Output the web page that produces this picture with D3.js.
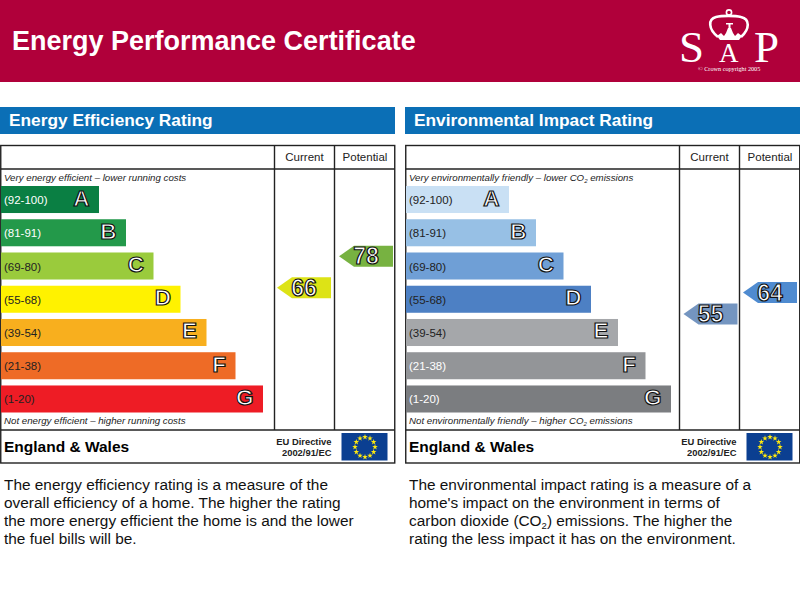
<!DOCTYPE html>
<html>
<head>
<meta charset="utf-8">
<script src="https://cdn.jsdelivr.net/npm/d3@7"></script>
<style>
  html, body { margin: 0; padding: 0; background: #fff; }
  svg { display: block; }
  text { font-family: "Liberation Sans", Arial, sans-serif; }
</style>
</head>
<body>
<div id="chart"></div>
<script>
var bands = ['A', 'B', 'C', 'D', 'E', 'F', 'G'];
var ranges = ['(92-100)', '(81-91)', '(69-80)', '(55-68)', '(39-54)', '(21-38)', '(1-20)'];

// bar lengths, in px of the original
var energyLengths = [98, 125, 152.5, 179.5, 205.5, 234.5, 262];
var envLengths = [103, 130, 157.5, 185, 212, 239.5, 265];

var energyColours = ['#0a7f43', '#23994a', '#9acb3c', '#fff200', '#f8af1e', '#ee6b26', '#ee1c25'];
var envColours = ['#c9e0f4', '#97c0e5', '#6f9fd6', '#4d80c4', '#a5a7aa', '#939598', '#7b7d80'];

var energyRangeText = ['#fff', '#fff', '#222', '#222', '#222', '#222', '#222'];
var envRangeText = ['#222', '#222', '#222', '#222', '#222', '#fff', '#fff'];

var scoreAnchors = [55, 68, 80];

var energyScores = [66, 78];
var energyArrows = ['#dde316', '#77b241'];
var envScores = [55, 64];
var envArrows = ['#7495c0', '#4f8bd0'];

var columns = ['Current', 'Potential'];

var energyBlurb = [
  'The energy efficiency rating is a measure of the',
  'overall efficiency of a home. The higher the rating',
  'the more energy efficient the home is and the lower',
  'the fuel bills will be.'
];
var envBlurb = [
  "The environmental impact rating is a measure of a",
  "home's impact on the environment in terms of",
  ["carbon dioxide (CO", "2", ") emissions. The higher the"],
  "rating the less impact it has on the environment."
];

var svg = d3.select('#chart').append('svg').attr('width', 800).attr('height', 600);

var y = d3.scaleBand().domain(bands).range([186, 412.5]).paddingInner(0.187).paddingOuter(0);
var x = d3.scaleLinear().domain([0, 265]).range([0, 265]);
var scoreY = d3.scaleLinear().domain(scoreAnchors).range([314, 283, 251]);

// header
svg.append('rect').attr('width', 800).attr('height', 82).attr('fill', '#b0003a');
svg.append('text').attr('x', 12).attr('y', 50)
  .attr('font-size', 27).attr('font-weight', 'bold').attr('fill', '#fff')
  .text('Energy Performance Certificate');

drawLogo();

function drawLogo() {
  var g = svg.append('g').attr('fill', '#fff');
  var serif = '"Liberation Serif", serif';
  function word(xx, yy, size, s) {
    g.append('text').attr('x', xx).attr('y', yy).attr('font-size', size)
      .style('font-family', serif).text(s);
  }
  word(679, 62, 45, 'S');
  word(719, 62, 27, 'A');
  word(754, 62, 45, 'P');
  word(698, 71, 6.2, '\u00a9 Crown copyright 2005');
  // crown
  g.append('path')
    .attr('fill', 'none').attr('stroke', '#fff').attr('stroke-width', 2.6)
    .attr('d', 'M718 37 C708 29 708 19 716 17 C722 15.5 735 15.5 741 17 C750 19 750 29 741 37');
  g.append('circle').attr('cx', 729).attr('cy', 12.5).attr('r', 2.6)
    .attr('fill', 'none').attr('stroke', '#fff').attr('stroke-width', 1.6);
  g.append('path').attr('d', 'M717 36 L721 33 L724 36 L726 33 L728 28 L731 28 L733 33 L735 36 L738 33 L742 36 L739 40 L720 40 Z');
  g.append('path').attr('d', 'M726 23 L733 23 L733 24.5 L730.5 24.5 L730.5 29 L728.5 29 L728.5 24.5 L726 24.5 Z');
}

// white glyph with a dark outline
function outlined(sel) {
  sel.attr('fill', '#fff').attr('stroke', '#111').attr('stroke-width', 1.2);
}

function drawPanel(ox, opts) {
  var g = svg.append('g').attr('transform', 'translate(' + ox + ',0)');

  // blue title strip
  g.append('rect').attr('x', 0).attr('y', 107).attr('width', 395).attr('height', 27).attr('fill', '#0b6fb6');
  g.append('text').attr('x', 9).attr('y', 126)
    .attr('font-size', 17.3).attr('font-weight', 'bold').attr('fill', '#fff').text(opts.title);

  // frame
  g.append('rect').attr('x', 0.75).attr('y', 145.5).attr('width', 394).attr('height', 317.5)
    .attr('fill', 'none').attr('stroke', '#222').attr('stroke-width', 1.4);
  [[0.75, 169, 394.75, 169], [0.75, 430, 394.75, 430], [274.5, 145.5, 274.5, 430], [334.5, 145.5, 334.5, 430]].forEach(function(l) {
    g.append('line').attr('x1', l[0]).attr('y1', l[1]).attr('x2', l[2]).attr('y2', l[3])
      .attr('stroke', '#222').attr('stroke-width', 1.4);
  });

  g.selectAll('.col').data(columns).enter().append('text')
    .attr('class', 'col')
    .attr('x', function(d, i) { return i == 0 ? 304.5 : 365; })
    .attr('y', 161)
    .attr('text-anchor', 'middle').attr('font-size', 11.5).attr('fill', '#222')
    .text(function(d) { return d; });

  italicLine(g, 181, opts.top);
  italicLine(g, 424, opts.bottom);

  // bars
  g.selectAll('.bar').data(bands).enter().append('rect')
    .attr('class', 'bar')
    .attr('x', 1)
    .attr('y', function(d) { return y(d); })
    .attr('width', function(d, i) { return x(opts.lengths[i]); })
    .attr('height', y.bandwidth())
    .attr('fill', function(d, i) { return opts.colours[i]; });

  g.selectAll('.range').data(ranges).enter().append('text')
    .attr('class', 'range')
    .attr('x', 4)
    .attr('y', function(d, i) { return y(bands[i]) + y.bandwidth() / 2 + 4.5; })
    .attr('font-size', 11.5)
    .attr('fill', function(d, i) { return opts.rangeText[i]; })
    .text(function(d) { return d; });

  g.selectAll('.letter').data(bands).enter().append('text')
    .attr('class', 'letter')
    .attr('x', function(d, i) { return 1 + x(opts.lengths[i]) - 9.5; })
    .attr('y', function(d) { return y(d) + y.bandwidth() / 2 + 6; })
    .attr('text-anchor', 'end')
    .attr('font-size', 22.5).attr('font-weight', 'bold')
    .call(outlined)
    .text(function(d) { return d; });

  // current and potential arrows
  opts.scores.forEach(function(s, i) {
    var cy = scoreY(s), ax = opts.arrowX[i];
    g.append('path')
      .attr('d', d3.line()([[ax, cy], [ax + 15, cy - 10.5], [ax + 54, cy - 10.5], [ax + 54, cy + 10.5], [ax + 15, cy + 10.5]]) + 'Z')
      .attr('fill', opts.arrows[i]);
    g.append('text')
      .attr('x', ax + 27).attr('y', cy + 8)
      .attr('text-anchor', 'middle')
      .attr('font-size', 23).attr('font-weight', 'bold')
      .call(outlined)
      .text(s);
  });

  // footer row
  g.append('text').attr('x', 4).attr('y', 452)
    .attr('font-size', 15.5).attr('font-weight', 'bold').attr('fill', '#000').text('England & Wales');
  g.append('text').attr('x', 331.5).attr('y', 444.5).attr('text-anchor', 'end')
    .attr('font-size', 9.4).attr('font-weight', 'bold').attr('fill', '#222').text('EU Directive');
  g.append('text').attr('x', 331.5).attr('y', 456).attr('text-anchor', 'end')
    .attr('font-size', 9.4).attr('font-weight', 'bold').attr('fill', '#222').text('2002/91/EC');

  // flag
  g.append('rect').attr('x', 341.5).attr('y', 433).attr('width', 46).attr('height', 27.5).attr('fill', '#0b3f91');
  var star = d3.symbol().type(d3.symbolStar).size(10);
  g.selectAll('.star').data(d3.range(12)).enter().append('path')
    .attr('class', 'star')
    .attr('d', star)
    .attr('fill', '#ffe90f')
    .attr('transform', function(d) {
      var a = d / 12 * Math.PI * 2;
      return 'translate(' + (365 + 10 * Math.sin(a)) + ',' + (447 - 10 * Math.cos(a)) + ')';
    });

  // blurb
  opts.blurb.forEach(function(line, i) {
    var t = g.append('text').attr('x', 4).attr('y', 489.5 + i * 18)
      .attr('font-size', 15.4).attr('fill', '#111');
    if (typeof line == 'string') {
      t.text(line);
    } else {
      t.append('tspan').text(line[0]);
      t.append('tspan').attr('font-size', 9.5).attr('dy', 3).text(line[1]);
      t.append('tspan').attr('dy', -3).text(line[2]);
    }
  });
}

function italicLine(g, yy, parts) {
  var t = g.append('text').attr('x', 4).attr('y', yy)
    .attr('font-size', 9.7).attr('font-style', 'italic').attr('fill', '#222');
  t.append('tspan').text(parts[0]);
  if (parts.length > 1) {
    t.append('tspan').attr('font-size', 6).attr('dy', 2).text(parts[1]);
    t.append('tspan').attr('dy', -2).text(parts[2]);
  }
}

drawPanel(0, {
  title: 'Energy Efficiency Rating',
  top: ['Very energy efficient \u2013 lower running costs'],
  bottom: ['Not energy efficient \u2013 higher running costs'],
  lengths: energyLengths,
  colours: energyColours,
  rangeText: energyRangeText,
  scores: energyScores,
  arrows: energyArrows,
  arrowX: [277, 339],
  blurb: energyBlurb
});

drawPanel(405, {
  title: 'Environmental Impact Rating',
  top: ['Very environmentally friendly \u2013 lower CO', '2', ' emissions'],
  bottom: ['Not environmentally friendly \u2013 higher CO', '2', ' emissions'],
  lengths: envLengths,
  colours: envColours,
  rangeText: envRangeText,
  scores: envScores,
  arrows: envArrows,
  arrowX: [278.5, 338],
  blurb: envBlurb
});
</script>
</body>
</html>
